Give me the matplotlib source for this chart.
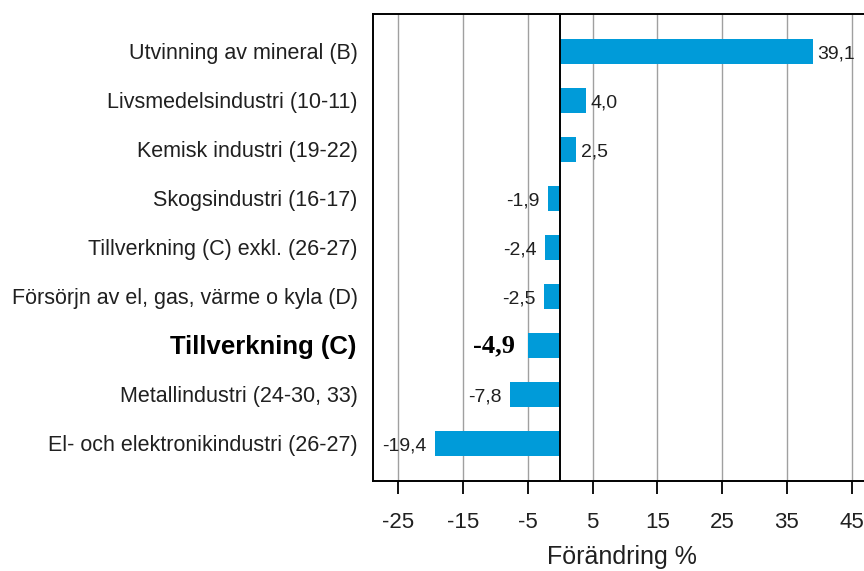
import matplotlib
matplotlib.use("Agg")
import matplotlib.pyplot as plt

categories = [
    "Utvinning av mineral (B)",
    "Livsmedelsindustri (10-11)",
    "Kemisk industri (19-22)",
    "Skogsindustri (16-17)",
    "Tillverkning (C) exkl. (26-27)",
    "Försörjn av el, gas, värme o kyla (D)",
    "Tillverkning (C)",
    "Metallindustri (24-30, 33)",
    "El- och elektronikindustri (26-27)",
]
values = [39.1, 4.0, 2.5, -1.9, -2.4, -2.5, -4.9, -7.8, -19.4]
xticks = [-25, -15, -5, 5, 15, 25, 35, 45]
highlight = "Tillverkning (C)"

W, H = 864, 571
fig = plt.figure(figsize=(W / 100, H / 100), dpi=100)
left, right, top, bottom = 373, 871, 14, 481
ax = fig.add_axes([left / W, 1 - bottom / H, (right - left) / W, (bottom - top) / H])

color = "#009BD9"
ypos = list(range(len(categories)))
ax.barh(ypos, values, height=0.5, color=color, zorder=3)
ax.set_xlim(-28.9, 48)
ax.set_ylim(len(categories) - 1 + 0.765, -0.765)
ax.axvline(0, color="black", lw=1.4, zorder=4)

ax.set_xticks(xticks)
ax.set_xticklabels([str(t) for t in xticks], fontsize=16, family="Liberation Sans",
                   color="#202020")
ax.tick_params(axis="x", direction="out", length=9, width=1.3, pad=13)
ax.set_yticks(ypos)
ax.set_yticklabels([])
ax.tick_params(axis="y", length=0)
ax.grid(axis="x", color="#A0A0A0", lw=1.0, zorder=0)
for s in ax.spines.values():
    s.set_linewidth(1.4)
    s.set_color("black")

for y, lab, v in zip(ypos, categories, values):
    txt = f"{v:.1f}".replace(".", ",")
    if lab == highlight:
        ax.annotate(lab, xy=(0, y), xycoords=("axes fraction", "data"),
                    xytext=(-12, -1), textcoords="offset points",
                    ha="right", va="center", fontsize=18.5, fontweight="bold",
                    family="Liberation Sans", color="black", annotation_clip=False)
        ax.annotate(txt, xy=(v, y), xytext=(-10, 0), textcoords="offset points",
                    ha="right", va="center", fontsize=19, fontweight="bold",
                    family="Liberation Serif", color="black", zorder=5)
    else:
        ax.annotate(lab, xy=(0, y), xycoords=("axes fraction", "data"),
                    xytext=(-11, -1.5), textcoords="offset points",
                    ha="right", va="center", fontsize=15.5,
                    family="Liberation Sans", color="#202020", annotation_clip=False)
        if v >= 0:
            ax.annotate(txt, xy=(v, y), xytext=(3, -1.5), textcoords="offset points",
                        ha="left", va="center", fontsize=14,
                        family="Liberation Sans", color="#202020", zorder=5)
        else:
            ax.annotate(txt, xy=(v, y), xytext=(-6, -1.5), textcoords="offset points",
                        ha="right", va="center", fontsize=14,
                        family="Liberation Sans", color="#202020", zorder=5)

ax.set_xlabel("Förändring %", fontsize=18, family="Liberation Sans", labelpad=9,
              color="#202020")

fig.savefig("out.png", dpi=100)
